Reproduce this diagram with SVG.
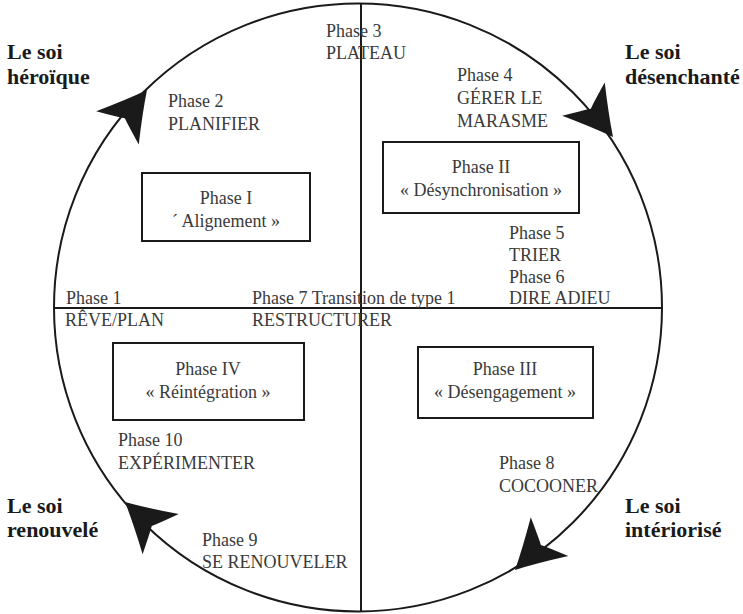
<svg xmlns="http://www.w3.org/2000/svg" xmlns:xlink="http://www.w3.org/1999/xlink" width="743" height="614" viewBox="0 0 743 614">
<style>
.t{font-family:"Liberation Serif","Times New Roman",serif;font-size:18px;fill:#3a3a3a}
.c{text-anchor:middle}
.b{font-family:"Liberation Serif","Times New Roman",serif;font-size:22px;font-weight:bold;fill:#1a1a1a}
.ln{stroke:#1a1a1a;stroke-width:2;fill:none}
.box{stroke:#1a1a1a;stroke-width:2;fill:#fff}
.ah{fill:#1a1a1a}
</style>
<defs>
<path id="head" d="M0,0 Q-20,-10 -48,-27 Q-40,-8 -36,0 Q-40,8 -48,27 Q-20,10 0,0 Z"/>
</defs>
<rect width="743" height="614" fill="#fff"/>
<g id="connectors">
<circle class="ln" cx="358" cy="307.5" r="304"/>
<line class="ln" x1="54" y1="308" x2="662" y2="308"/>
<line class="ln" x1="361" y1="4" x2="361" y2="611"/>
<use class="ah" xlink:href="#head" transform="translate(147,90) rotate(-52)"/>
<use class="ah" xlink:href="#head" transform="translate(613,137) rotate(52)"/>
<use class="ah" xlink:href="#head" transform="translate(515,570) rotate(136)"/>
<use class="ah" xlink:href="#head" transform="translate(125,502) rotate(-138)"/>
</g>
<g id="self-heroic"><text class="b" x="7" y="59">Le soi</text><text class="b" x="7" y="84">héroïque</text></g>
<g id="self-disenchanted"><text class="b" x="625" y="59">Le soi</text><text class="b" x="625" y="84">désenchanté</text></g>
<g id="self-renewed"><text class="b" x="7" y="513">Le soi</text><text class="b" x="7" y="537">renouvelé</text></g>
<g id="self-interior"><text class="b" x="625" y="513">Le soi</text><text class="b" x="625" y="537">intériorisé</text></g>
<g id="phase3"><text class="t" x="326" y="37">Phase 3</text><text class="t" x="326" y="59">PLATEAU</text></g>
<g id="phase2"><text class="t" x="168" y="107">Phase 2</text><text class="t" x="168" y="130">PLANIFIER</text></g>
<g id="phase4"><text class="t" x="457" y="81">Phase 4</text><text class="t" x="457" y="104">GÉRER LE</text><text class="t" x="457" y="127">MARASME</text></g>
<g id="phaseI"><rect class="box" x="142" y="173" width="168" height="68"/><text class="t c" x="226" y="204">Phase I</text><text class="t c" x="226" y="227">´ Alignement »</text></g>
<g id="phaseII"><rect class="box" x="383" y="142" width="196" height="71"/><text class="t c" x="481" y="173">Phase II</text><text class="t c" x="481" y="196">« Désynchronisation »</text></g>
<g id="phase5"><text class="t" x="509" y="239">Phase 5</text><text class="t" x="509" y="261">TRIER</text></g>
<g id="phase6"><text class="t" x="509" y="283">Phase 6</text><text class="t" x="509" y="304">DIRE ADIEU</text></g>
<g id="phase1"><text class="t" x="66" y="304">Phase 1</text><text class="t" x="65" y="326">RÊVE/PLAN</text></g>
<g id="phase7"><text class="t" x="252" y="304">Phase 7 Transition de type 1</text><text class="t" x="252" y="326">RESTRUCTURER</text></g>
<g id="phaseIV"><rect class="box" x="113" y="343" width="191" height="77"/><text class="t c" x="208" y="375">Phase IV</text><text class="t c" x="208" y="398">« Réintégration »</text></g>
<g id="phaseIII"><rect class="box" x="418" y="347" width="175" height="71"/><text class="t c" x="505" y="375">Phase III</text><text class="t c" x="505" y="398">« Désengagement »</text></g>
<g id="phase10"><text class="t" x="118" y="446">Phase 10</text><text class="t" x="118" y="469">EXPÉRIMENTER</text></g>
<g id="phase8"><text class="t" x="499" y="469">Phase 8</text><text class="t" x="499" y="492">COCOONER</text></g>
<g id="phase9"><text class="t" x="202" y="546">Phase 9</text><text class="t" x="202" y="568">SE RENOUVELER</text></g>
</svg>
